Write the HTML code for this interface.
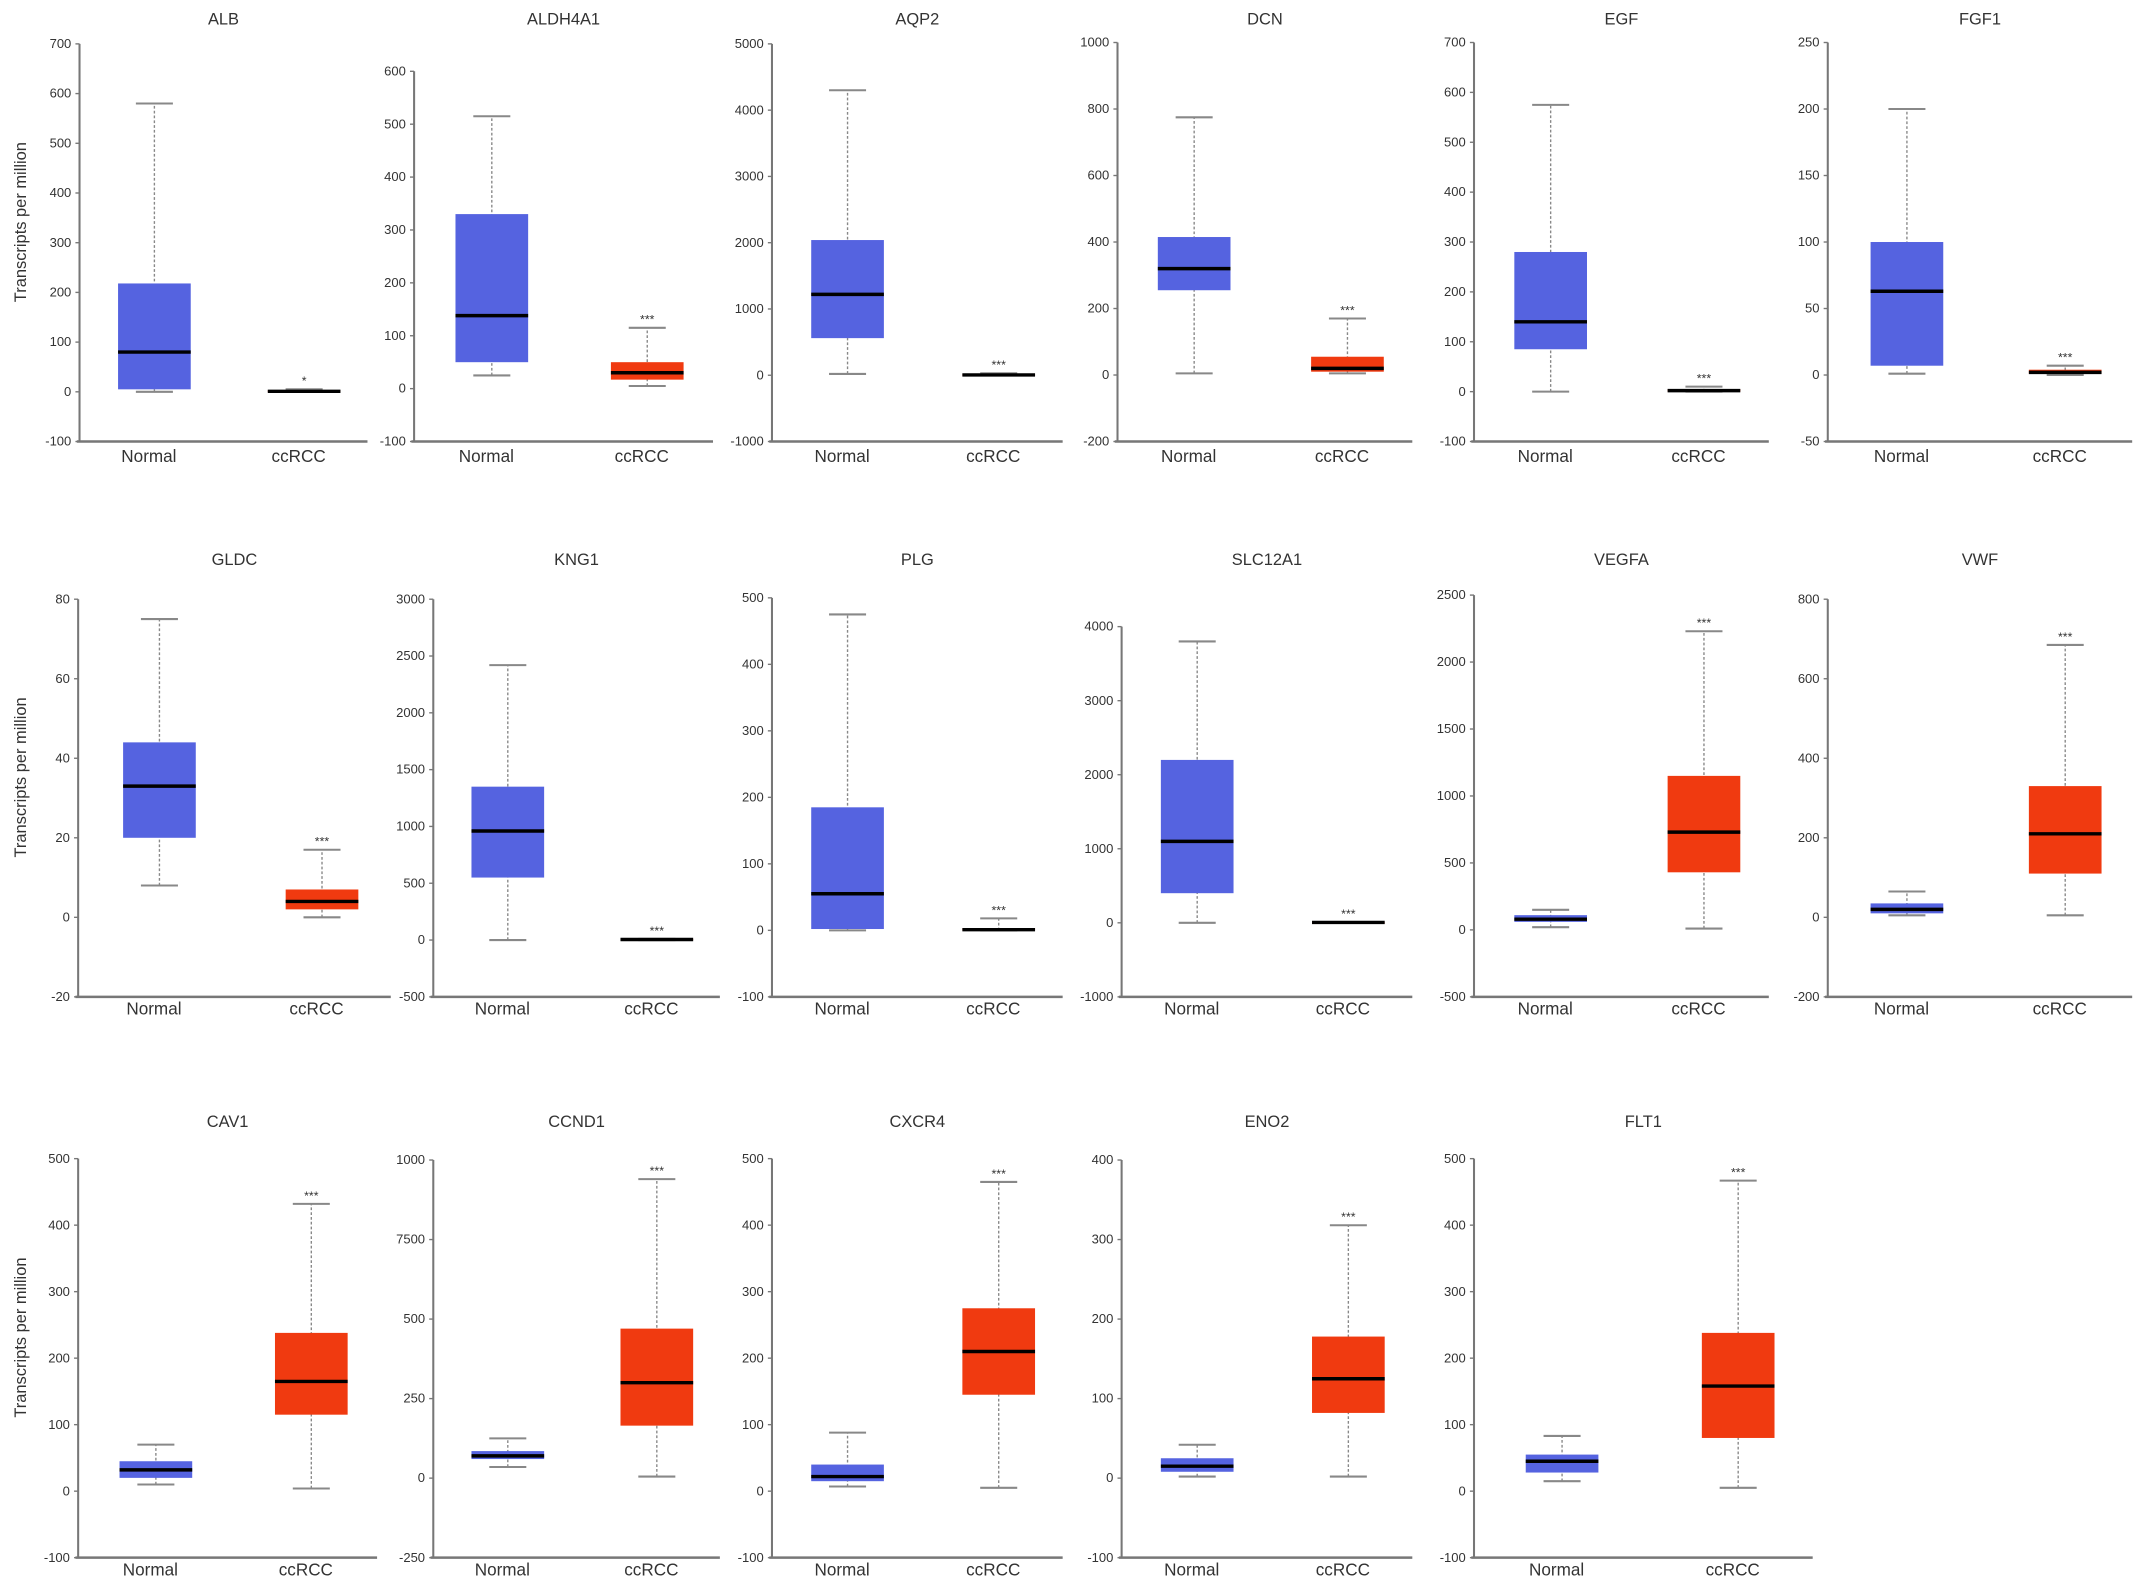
<!DOCTYPE html>
<html><head><meta charset="utf-8"><style>
html,body{margin:0;padding:0;background:#fff}
svg{display:block}
text{font-family:"Liberation Sans",sans-serif;fill:#333}
</style></head><body>
<svg id="chart" width="2150" height="1594" viewBox="0 0 1568 1162.5" preserveAspectRatio="none" xmlns="http://www.w3.org/2000/svg"></svg>
<script>
const titles=["ALB","ALDH4A1","AQP2","DCN","EGF","FGF1","GLDC","KNG1","PLG","SLC12A1","VEGFA","VWF","CAV1","CCND1","CXCR4","ENO2","FLT1"];
const yMins=[-100,-100,-1000,-200,-100,-50,-20,-500,-100,-1000,-500,-200,-100,-250,-100,-100,-100];
const yMaxs=[700,600,5000,1000,700,250,80,3000,500,4000,2500,800,500,1000,500,400,500];
const tickValues=[
[-100,0,100,200,300,400,500,600,700],[-100,0,100,200,300,400,500,600],[-1000,0,1000,2000,3000,4000,5000],
[-200,0,200,400,600,800,1000],[-100,0,100,200,300,400,500,600,700],[-50,0,50,100,150,200,250],
[-20,0,20,40,60,80],[-500,0,500,1000,1500,2000,2500,3000],[-100,0,100,200,300,400,500],
[-1000,0,1000,2000,3000,4000],[-500,0,500,1000,1500,2000,2500],[-200,0,200,400,600,800],
[-100,0,100,200,300,400,500],[-250,0,250,500,750,1000],[-100,0,100,200,300,400,500],[-100,0,100,200,300,400],[-100,0,100,200,300,400,500]];
const tickLabels=[null,null,null,null,null,null,null,null,null,null,null,null,null,["-250","0","250","500","7500","1000"],null,null,null];
// [lowWhisker, q1, median, q3, highWhisker]
const normalStats=[[0,5,80,218,580],[25,50,138,330,515],[20,560,1220,2040,4300],[5,255,320,415,775],[0,85,140,280,575],[1,7,63,100,200],
[8,20,33,44,75],[0,550,960,1350,2420],[0,2,55,185,475],[0,400,1100,2200,3800],[20,60,80,110,150],[5,10,20,35,65],
[10,20,32,45,70],[35,60,70,85,125],[7,15,22,40,88],[2,8,15,25,42],[15,28,45,55,83]];
const tumorStats=[[0,0,1,3,5],[5,17,30,50,115],[0,0,5,15,30],[5,10,20,55,170],[0,0,2,5,10],[0,1,2,4,7],
[0,2,4,7,17],[0,0,5,10,10],[0,0,1,3,18],[0,0,5,10,10],[10,430,730,1150,2230],[5,110,210,330,685],
[4,115,165,238,432],[5,165,300,470,940],[5,145,210,275,465],[2,82,125,178,318],[5,80,158,238,467]];
const stars=["*","***","***","***","***","***","***","***","***","***","***","***","***","***","***","***","***"];
const categories=["Normal","ccRCC"];

// layout (pixel) — not data
const layout=[
[58,32,322,268],[302,52,322,520],[563,32,322,775],[815,31,322,1030],[1075,31,322,1290],[1333,31,322,1555],
[57,437,727,285],[316,437,727,525],[563,436,727,775],[818,457,727,1030],[1075,434,727,1290],[1333,437,727,1555],
[57,845,1136,275],[316,846,1136,525],[563,845,1136,775],[818,846,1136,1030],[1075,845,1136,1322]];
const titleY=[18,412,822], catY=[337,740,1149];
const svg=document.getElementById('chart');
const NS='http://www.w3.org/2000/svg';
function mk(tag,attrs,parent){const e=document.createElementNS(NS,tag);for(const k in attrs)e.setAttribute(k,attrs[k]);(parent||svg).appendChild(e);return e;}
titles.forEach((t,i)=>{
  const [ax,yt,yb,xe]=layout[i];const row=Math.floor(i<6?0:i<12?1:2);
  const g=mk('g',{});
  
  
  const y=v=>yb-(v-yMins[i])/(yMaxs[i]-yMins[i])*(yb-yt);
  const tt=mk('text',{x:ax+(xe-ax)/2,y:titleY[row],'font-size':12,'text-anchor':'middle'},g);tt.textContent=t;
  
  
  const ya=mk('line',{x1:ax,y1:yt,x2:ax,y2:yb,stroke:'#777','stroke-width':1.5},g);
  
  
  const xa=mk('line',{x1:ax-2,y1:yb,x2:xe,y2:yb,stroke:'#777','stroke-width':1.8},g);
  
  
  tickValues[i].forEach((v,k)=>{
    mk('line',{x1:ax-3,y1:y(v),x2:ax,y2:y(v),stroke:'#777','stroke-width':1},g);
    const tl=mk('text',{x:ax-6,y:y(v)+3,'font-size':9.5,'text-anchor':'end',fill:'#444'},g);
    tl.textContent=tickLabels[i]?tickLabels[i][k]:String(v);
    
    
  });
  const span=xe-ax;const cx=[ax+span*0.26,ax+span*0.78];
  [normalStats[i],tumorStats[i]].forEach((s,j)=>{
    const c=cx[j],bw=53,cw=27;const col=j?'#f03a10':'#5563e0';
    const bg=mk('g',{},g);
    
    
    mk('line',{x1:c,y1:y(s[0]),x2:c,y2:y(s[4]),stroke:'#888','stroke-width':1,'stroke-dasharray':'2,1.5'},bg);
    mk('line',{x1:c-cw/2,y1:y(s[0]),x2:c+cw/2,y2:y(s[0]),stroke:'#888','stroke-width':1.5},bg);
    mk('line',{x1:c-cw/2,y1:y(s[4]),x2:c+cw/2,y2:y(s[4]),stroke:'#888','stroke-width':1.5},bg);
    const h=Math.max(y(s[1])-y(s[3]),1);
    mk('rect',{x:c-bw/2,y:y(s[3]),width:bw,height:h,fill:col},bg);
    mk('line',{x1:c-bw/2,y1:y(s[2]),x2:c+bw/2,y2:y(s[2]),stroke:'#000','stroke-width':2.5},bg);
    if(j){const st=mk('text',{x:c,y:y(s[4])-3,'font-size':9,'text-anchor':'middle'},bg);st.textContent=stars[i];
      
      }
    const cl=mk('text',{x:c-4,y:catY[row],'font-size':12.5,'text-anchor':'middle'},g);cl.textContent=categories[j];
    
    
  });
  if(i===0||i===6||i===12){
    const ym=(yt+yb)/2-15;
    const yl=mk('text',{x:19,y:ym,'font-size':12,'text-anchor':'middle',transform:'rotate(-90 19 '+ym+')'},g);
    yl.textContent='Transcripts  per  million';
    
    
  }
});
</script>
</body></html>
